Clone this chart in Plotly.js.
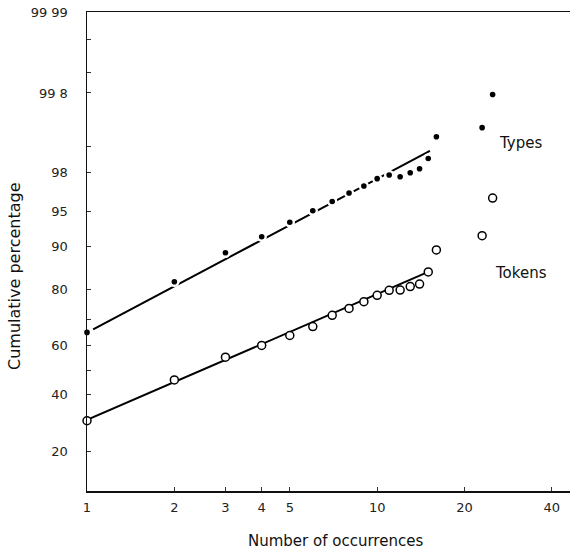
<!DOCTYPE html>
<html>
<head>
<meta charset="utf-8">
<script src="https://cdn.plot.ly/plotly-3.0.1.min.js"></script>
<style>html,body{margin:0;padding:0;background:#fff;}#chart{width:570px;height:550px;}</style>
</head>
<body>
<div id="chart"></div>
<script>
// ---- data ----
const typesN     = [1, 2, 3, 4, 5, 6, 7, 8, 9, 10, 11, 12, 13, 14, 15, 16, 23, 25];
const typesPct   = [65.2, 82.05, 88.85, 91.7, 93.76, 95.1, 96.0, 96.7, 97.2, 97.66, 97.86, 97.77, 97.98, 98.17, 98.6, 99.23, 99.41, 99.79];
const tokensN    = [1, 2, 3, 4, 5, 6, 7, 8, 9, 10, 11, 12, 13, 14, 15, 16, 23, 25];
const tokensPct  = [29.9, 45.9, 55.3, 60.1, 64.0, 67.4, 71.5, 73.9, 76.1, 78.1, 79.6, 79.7, 80.7, 81.4, 84.6, 89.4, 91.85, 96.3];
const typesFitN    = [1.05, 15.2];
const typesFitPct  = [66.4, 98.86];
const tokensFitN   = [1.0, 15.0];
const tokensFitPct = [30.2, 84.6];
const yTickPct    = [20, 40, 50, 60, 70, 80, 90, 95, 98, 99, 99.8, 99.9, 99.97, 99.99];
const yTickLabels = ["20", "40", "", "60", "", "80", "90", "95", "98", "", "99 8", "", "", "99 99"];
const xTickVals   = [1, 2, 3, 4, 5, 10, 20, 40];
const xTickLabels = ["1", "2", "3", "4", "5", "10", "20", "40"];

// inverse standard normal CDF (Acklam) -> probability-scale axis
function probit(pct) {
  const p = pct / 100;
  const a = [-3.969683028665376e+01, 2.209460984245205e+02, -2.759285104469687e+02, 1.383577518672690e+02, -3.066479806614716e+01, 2.506628277459239e+00];
  const b = [-5.447609879822406e+01, 1.615858368580409e+02, -1.556989798598866e+02, 6.680131188771972e+01, -1.328068155288572e+01];
  const c = [-7.784894002430293e-03, -3.223964580411365e-01, -2.400758277161838e+00, -2.549732539343734e+00, 4.374664141464968e+00, 2.938163982698783e+00];
  const d = [7.784695709041462e-03, 3.224671290700398e-01, 2.445134137142996e+00, 3.754408661907416e+00];
  const pl = 0.02425, ph = 1 - pl;
  let q, r;
  if (p < pl) {
    q = Math.sqrt(-2 * Math.log(p));
    return (((((c[0]*q+c[1])*q+c[2])*q+c[3])*q+c[4])*q+c[5]) / ((((d[0]*q+d[1])*q+d[2])*q+d[3])*q+1);
  } else if (p <= ph) {
    q = p - 0.5; r = q * q;
    return (((((a[0]*r+a[1])*r+a[2])*r+a[3])*r+a[4])*r+a[5])*q / (((((b[0]*r+b[1])*r+b[2])*r+b[3])*r+b[4])*r+1);
  } else {
    q = Math.sqrt(-2 * Math.log(1 - p));
    return -(((((c[0]*q+c[1])*q+c[2])*q+c[3])*q+c[4])*q+c[5]) / ((((d[0]*q+d[1])*q+d[2])*q+d[3])*q+1);
  }
}

const FONT = "DejaVu Sans, Liberation Sans, sans-serif";
const traces = [
  { x: typesFitN, y: typesFitPct.map(probit), mode: "lines", line: { color: "#000", width: 2 }, hoverinfo: "skip" },
  { x: tokensFitN, y: tokensFitPct.map(probit), mode: "lines", line: { color: "#000", width: 2 }, hoverinfo: "skip" },
  { x: typesN, y: typesPct.map(probit), mode: "markers", name: "Types",
    marker: { symbol: "circle", size: 8, color: "#000", line: { color: "#fff", width: 2.4 } }, cliponaxis: false },
  { x: tokensN, y: tokensPct.map(probit), mode: "markers", name: "Tokens",
    marker: { symbol: "circle", size: 8, color: "#fff", line: { color: "#000", width: 1.5 } }, cliponaxis: false }
];

const layout = {
  width: 570, height: 550,
  margin: { l: 87, r: 0, t: 12, b: 59, pad: 0 },
  paper_bgcolor: "#fff", plot_bgcolor: "#fff",
  showlegend: false,
  font: { family: FONT, size: 13, color: "#222" },
  xaxis: {
    type: "log", range: [0, 1.6646],
    tickvals: xTickVals, ticktext: xTickLabels,
    ticks: "inside", ticklen: 4, tickwidth: 1, tickcolor: "#333",
    showline: true, linecolor: "#111", linewidth: 1.5, mirror: true,
    showgrid: false, zeroline: false,
    ticklabelstandoff: 4,
    tickfont: { family: FONT, size: 13, color: "#222" }
  },
  yaxis: {
    range: [-1.257, 3.7195],
    tickvals: yTickPct.map(probit), ticktext: yTickLabels,
    ticks: "inside", ticklen: 4, tickwidth: 1, tickcolor: "#333",
    showline: true, linecolor: "#111", linewidth: 1.5,
    showgrid: false, zeroline: false,
    ticklabelstandoff: 15,
    tickfont: { family: FONT, size: 13, color: "#222" }
  },
  annotations: [
    { text: "Number of occurrences", xref: "paper", yref: "paper", x: 0.5135, y: -0.1044,
      xanchor: "center", yanchor: "middle", showarrow: false, font: { family: FONT, size: 15, color: "#111" } },
    { text: "Cumulative percentage", xref: "paper", yref: "paper", x: -0.149, y: 0.449, textangle: -90,
      xanchor: "center", yanchor: "middle", showarrow: false, font: { family: FONT, size: 16, color: "#111" } },
    { text: "Types", xref: "paper", yref: "paper", x: 0.849, y: 0.7265,
      xanchor: "left", yanchor: "middle", showarrow: false, font: { family: FONT, size: 15, color: "#111" } },
    { text: "Tokens", xref: "paper", yref: "paper", x: 0.8406, y: 0.455,
      xanchor: "left", yanchor: "middle", showarrow: false, font: { family: FONT, size: 15, color: "#111" } }
  ]
};

Plotly.newPlot("chart", traces, layout, { staticPlot: true, displayModeBar: false });
</script>
</body>
</html>
